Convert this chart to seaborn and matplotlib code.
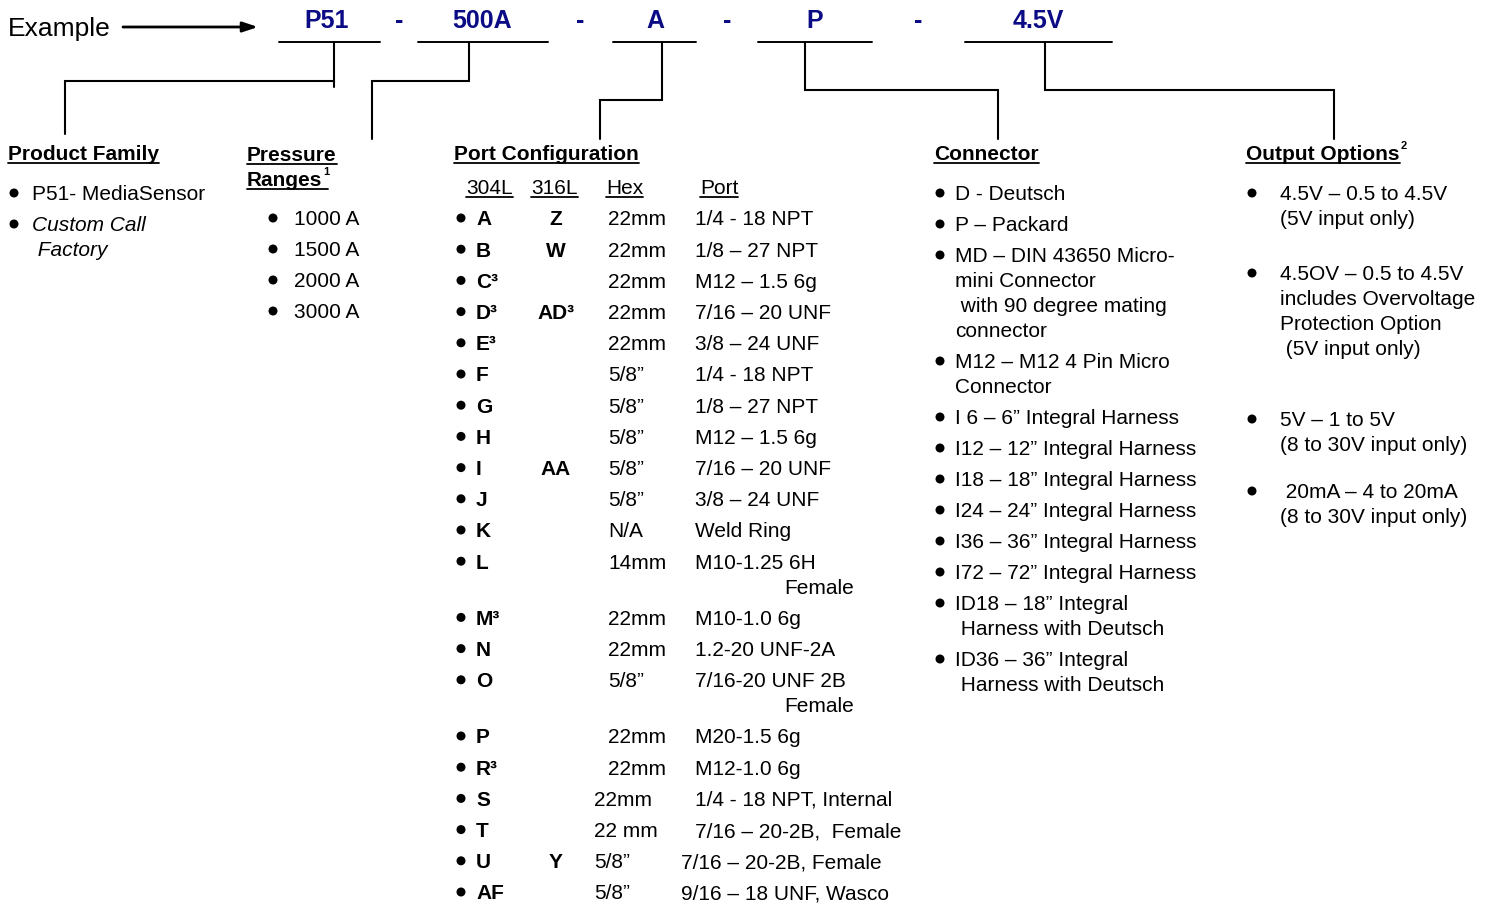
import matplotlib
matplotlib.use("Agg")
import matplotlib.pyplot as plt
import seaborn as sns
import pandas as pd

# ---- part number example ----
code_parts = ["P51", "500A", "A", "P", "4.5V"]

# ---- column contents ----
family_items = ["P51- MediaSensor", "Custom Call\n Factory"]
family_italic = [False, True]

pressure_items = ["1000 A", "1500 A", "2000 A", "3000 A"]

port_headers = ["304L", "316L", "Hex", "Port"]
port_304 = ["A", "B", "C³", "D³", "E³", "F", "G", "H", "I", "J", "K", "L",
            "M³", "N", "O", "P", "R³", "S", "T", "U", "AF"]
port_316 = ["Z", "W", "", "AD³", "", "", "", "", "AA", "", "", "",
            "", "", "", "", "", "", "", "Y", ""]
port_hex = ["22mm", "22mm", "22mm", "22mm", "22mm", "5/8”", "5/8”", "5/8”",
            "5/8”", "5/8”", "N/A", "14mm", "22mm", "22mm", "5/8”", "22mm",
            "22mm", "22mm", "22 mm", "5/8”", "5/8”"]
port_thread = ["1/4 - 18 NPT", "1/8 – 27 NPT", "M12 – 1.5 6g", "7/16 – 20 UNF",
               "3/8 – 24 UNF", "1/4 - 18 NPT", "1/8 – 27 NPT", "M12 – 1.5 6g",
               "7/16 – 20 UNF", "3/8 – 24 UNF", "Weld Ring",
               "M10-1.25 6H\nFemale", "M10-1.0 6g", "1.2-20 UNF-2A",
               "7/16-20 UNF 2B\nFemale", "M20-1.5 6g", "M12-1.0 6g",
               "1/4 - 18 NPT, Internal", "7/16 – 20-2B,  Female",
               "7/16 – 20-2B, Female", "9/16 – 18 UNF, Wasco"]

connector_items = ["D - Deutsch", "P – Packard",
                   "MD – DIN 43650 Micro-\nmini Connector\n with 90 degree mating\nconnector",
                   "M12 – M12 4 Pin Micro\nConnector",
                   "I 6 – 6” Integral Harness", "I12 – 12” Integral Harness",
                   "I18 – 18” Integral Harness", "I24 – 24” Integral Harness",
                   "I36 – 36” Integral Harness", "I72 – 72” Integral Harness",
                   "ID18 – 18” Integral\n Harness with Deutsch",
                   "ID36 – 36” Integral\n Harness with Deutsch"]

output_items = ["4.5V – 0.5 to 4.5V\n(5V input only)",
                "4.5OV – 0.5 to 4.5V\nincludes Overvoltage\nProtection Option\n (5V input only)",
                "5V – 1 to 5V\n(8 to 30V input only)",
                " 20mA – 4 to 20mA\n(8 to 30V input only)"]

# ---- layout ----
W, H = 1493, 905
FS = 15          # body font size (pt)
LINE = 25        # px between wrapped lines
STEP = 31        # px between bullet items
NAVY = "#0b0b86"

sns.set_style("white")
plt.rcParams["font.family"] = ["Liberation Sans", "DejaVu Sans"]
plt.rcParams["text.color"] = "black"

fig = plt.figure(figsize=(W / 100, H / 100), dpi=100)
ax = fig.add_axes([0, 0, 1, 1])
ax.set_xlim(0, W)
ax.set_ylim(H, 0)
ax.axis("off")

bullets = []


def put(x, yc, s, size=FS, **kw):
    # yc = vertical centre of capital letters, in px
    cap = 0.716 * size * 100 / 72
    kw.setdefault("color", "black")
    return ax.text(x, yc + cap / 2, s, fontsize=size, va="baseline", **kw)


def item_list(items, bx, tx, y0, italic=None, gaps=None):
    y = y0
    for i, it in enumerate(items):
        lines = it.split("\n")
        bullets.append((bx, y))
        for k, ln in enumerate(lines):
            st = "italic" if italic and italic[i] else "normal"
            put(tx, y + k * LINE, ln, style=st)
        if gaps:
            y += gaps[i]
        else:
            y += STEP + LINE * (len(lines) - 1)


# ---- top: example part number ----
put(8, 27, "Example", size=19)
ax.annotate("", xy=(258, 27), xytext=(123, 27),
            arrowprops=dict(arrowstyle="-|>,head_length=0.9,head_width=0.3",
                            color="black", lw=2, shrinkA=0, shrinkB=0))

code_x = [327, 482, 655, 815, 1038]
dash_x = [399, 580, 727, 918]
under = [(279, 380), (418, 548), (613, 696), (758, 872), (965, 1112)]
for cx, c in zip(code_x, code_parts):
    put(cx, 19, c, size=18, ha="center", color=NAVY, fontweight="bold",
        family=["Liberation Sans Narrow", "Liberation Sans"])
for dx in dash_x:
    put(dx, 19, "-", size=18, ha="center", color=NAVY, fontweight="bold")
for a, b in under:
    ax.plot([a, b], [42, 42], color="black", lw=1.4)

# connector lines from each code to its column
paths = [
    [(334, 42), (334, 87)], [(334, 81), (65, 81), (65, 134)],
    [(469, 42), (469, 81), (372, 81), (372, 139)],
    [(662, 42), (662, 100), (600, 100), (600, 139)],
    [(805, 42), (805, 90), (998, 90), (998, 139)],
    [(1045, 42), (1045, 90), (1334, 90), (1334, 139)],
]
for p in paths:
    xs, ys = zip(*p)
    ax.plot(xs, ys, color="black", lw=1.5, solid_joinstyle="miter")

# ---- headings ----
headings = []
headings.append(put(8, 153, "Product Family", fontweight="bold"))
headings.append(put(247, 154, "Pressure", fontweight="bold"))
headings.append(put(247, 179, "Ranges", fontweight="bold"))
headings.append(put(454, 153, "Port Configuration", fontweight="bold"))
headings.append(put(934, 153, "Connector", fontweight="bold"))
headings.append(put(1246, 153, "Output Options", fontweight="bold"))

hdr_x = [466, 531, 606, 700]
for hx, h in zip(hdr_x, port_headers):
    headings.append(put(hx, 187, h))

# ---- columns ----
item_list(family_items, 14, 32, 193, italic=family_italic)
item_list(pressure_items, 273, 294, 218)
item_list(connector_items, 940, 955, 193)
item_list(output_items, 1252, 1280, 193, gaps=[80, 146, 72, 0])

y = 218
for i, (c4, c6, hx, th) in enumerate(zip(port_304, port_316, port_hex, port_thread)):
    bullets.append((461, y))
    put(476, y, c4, fontweight="bold")
    if c6:
        put(556, y, c6, fontweight="bold", ha="center")
    # the last rows of the table sit slightly further left in the original
    shift = -14 if i >= 17 else 0
    put(608 + shift, y, hx)
    lines = th.split("\n")
    put(695 + (shift if i >= 19 else 0), y, lines[0])
    for k, ln in enumerate(lines[1:], start=1):
        put(784, y + k * LINE, ln)
    y += STEP + LINE * (len(lines) - 1) + 0.2

bdf = pd.DataFrame(bullets, columns=["x", "y"])
sns.scatterplot(data=bdf, x="x", y="y", color="black", s=42,
                edgecolor="none", legend=False, ax=ax)
ax.set_xlim(0, W)
ax.set_ylim(H, 0)
ax.axis("off")

# ---- underlines and superscripts (need text extents) ----
fig.canvas.draw()
r = fig.canvas.get_renderer()
inv = ax.transData.inverted()


def extent(t):
    bb = t.get_window_extent(renderer=r)
    (x0, _), (x1, _) = inv.transform([(bb.x0, bb.y0), (bb.x1, bb.y1)])
    return x0, x1


ranges_t = headings[2]
out_t = headings[5]
x0, x1 = extent(ranges_t)
ax.text(x1 + 1, ranges_t.get_position()[1] - 11, "1", fontsize=8,
        fontweight="bold", va="baseline", color="black")
x0, x1 = extent(out_t)
ax.text(x1 + 1, out_t.get_position()[1] - 11, "2", fontsize=8,
        fontweight="bold", va="baseline", color="black")

for t in headings:
    x0, x1 = extent(t)
    if t is ranges_t:
        x1 += 6
    yb = t.get_position()[1]
    ax.plot([x0, x1], [yb + 3, yb + 3], color="black", lw=1.3)

fig.savefig("out.png", dpi=100)
